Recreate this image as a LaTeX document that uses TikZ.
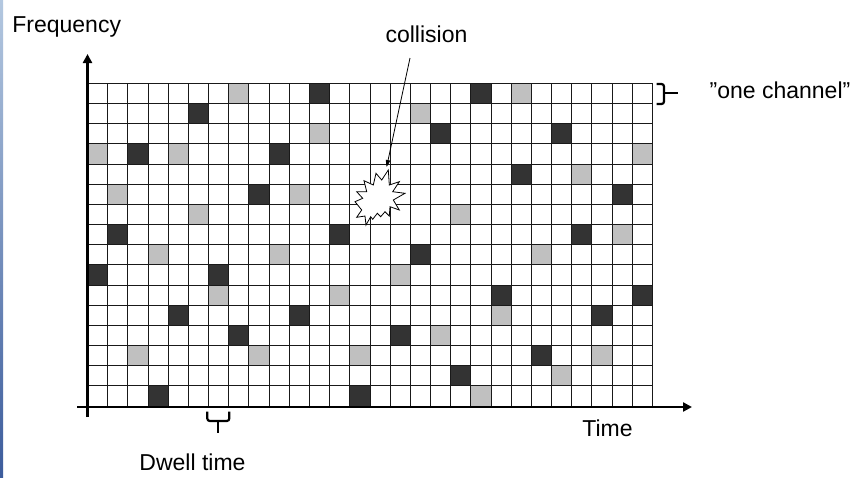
\documentclass[tikz,border=0pt]{standalone}
\usepackage{fontspec}
\setmainfont{Liberation Sans}
\usetikzlibrary{arrows.meta,calc}
\definecolor{darkcell}{HTML}{333333}
\definecolor{lightcell}{HTML}{C0C0C0}
\definecolor{stripTop}{HTML}{B4C8E0}
\definecolor{stripBot}{HTML}{3C5C9C}
\begin{document}
\begin{tikzpicture}[x=1pt,y=-1pt,
  lbl/.style={font=\fontsize{23}{26}\selectfont, anchor=base, inner sep=0pt},
  gridline/.style={draw=black!90, line width=1.6pt},
  axisline/.style={line width=2.4pt, -{Triangle[width=9pt,length=9pt]}},
  bracestyle/.style={line width=2.2pt, rounded corners=2.5pt},
  darkfill/.style={fill=darkcell},
  lightfill/.style={fill=lightcell}]
\useasboundingbox (0,0) rectangle (859,477);
\fill[white] (0,0) rectangle (859,477);
\shade[top color=stripTop,bottom color=stripBot] (0,0) rectangle (3,477);
% shaded cells
\foreach \c/\r in {11/0,19/0,5/1,17/2,23/2,2/3,9/3,21/4,8/5,26/5,1/7,12/7,24/7,16/8,0/9,6/9,20/10,27/10,4/11,10/11,25/11,7/12,15/12,22/13,18/14,3/15,13/15}{
  \pgfmathsetmacro{\xa}{floor(87.5+\c*20.18)+0.5}
  \pgfmathsetmacro{\xb}{floor(87.5+(\c+1)*20.18)+0.5}
  \pgfmathsetmacro{\ya}{floor(83.3+\r*20.18)+0.5}
  \pgfmathsetmacro{\yb}{floor(83.3+(\r+1)*20.18)+0.5}
  \path[darkfill] (\xa,\ya) rectangle (\xb,\yb);}
\foreach \c/\r in {7/0,21/0,16/1,11/2,0/3,4/3,27/3,24/4,1/5,10/5,5/6,18/6,26/7,3/8,9/8,22/8,15/9,6/10,12/10,20/11,17/12,2/13,8/13,13/13,25/13,23/14,19/15}{
  \pgfmathsetmacro{\xa}{floor(87.5+\c*20.18)+0.5}
  \pgfmathsetmacro{\xb}{floor(87.5+(\c+1)*20.18)+0.5}
  \pgfmathsetmacro{\ya}{floor(83.3+\r*20.18)+0.5}
  \pgfmathsetmacro{\yb}{floor(83.3+(\r+1)*20.18)+0.5}
  \path[lightfill] (\xa,\ya) rectangle (\xb,\yb);}
% grid
\foreach \i in {0,...,28}{
  \pgfmathsetmacro{\gx}{floor(87.5+\i*20.18)+0.5}
  \draw[gridline] (\gx,83.5) -- (\gx,406.5);}
\foreach \j in {0,...,16}{
  \pgfmathsetmacro{\gy}{floor(83.3+\j*20.18)+0.5}
  \draw[gridline] (87.5,\gy) -- (652.5,\gy);}
% axes
\draw[axisline] (87.5,417) -- (87.5,54);
\draw[axisline] (77,407) -- (692,407);
% collision burst
\draw[line width=0.8pt, fill=white] (388.3,170) -- (389.3,185) -- (399.3,181.7) -- (392.7,191.7) -- (405,193.3) -- (393.3,200) -- (399.3,210) -- (390,206.7) -- (389.3,216) -- (385,211.7) -- (380.7,216.7) -- (377.3,213.3) -- (372.7,219.3) -- (370.7,216.7) -- (366,225) -- (365,216) -- (356.7,217.3) -- (361.7,210) -- (355,201.7) -- (362.7,198.3) -- (356.7,191.7) -- (366.7,191.7) -- (364,180.7) -- (373.3,185) -- (376,173.3) -- (381.7,180) -- cycle;
\coordinate (bursttip) at (386.6,167);
% labels
\node[lbl] (freq) at (66.7,32.7) {Frequency};
\node[lbl] (collision) at (426.5,42.7) {collision};
\node[lbl] (channel) at (780,98.3) {”one channel”};
\node[lbl] (time) at (607.5,436) {Time};
\node[lbl] (dwell) at (192.5,470.7) {Dwell time};
\coordinate (arrowstart) at (410,58);
\draw[line width=0.8pt, -{Triangle[width=4.5pt,length=7pt]}] (arrowstart) -- (bursttip);
% braces
\draw[bracestyle] (656.5,84) -- (664,84) -- (664,104) -- (656.5,104);
\draw[bracestyle] (664,93.3) -- (678,93.3);
\draw[bracestyle] (207.3,411.7) -- (207.3,421) -- (229.3,421) -- (229.3,411.7);
\draw[bracestyle] (218.3,421) -- (218.3,433.3);
\end{tikzpicture}
\end{document}
